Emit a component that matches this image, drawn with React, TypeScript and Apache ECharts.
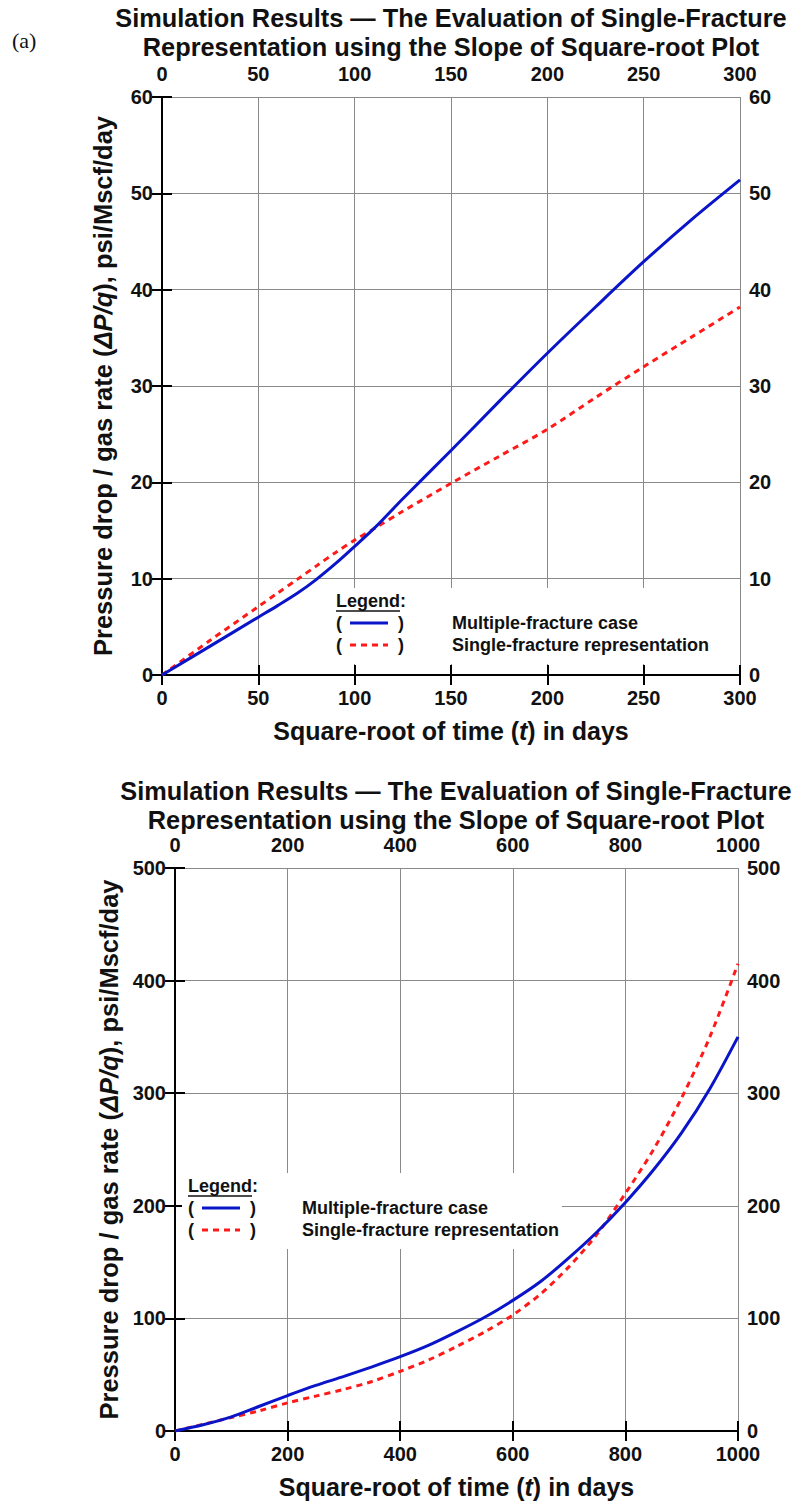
import React, { useEffect, useRef } from "react";
import * as echarts from "echarts";

// ---------- Data ----------
const topX = [0, 25, 50, 60, 70, 80, 90, 100, 111, 125, 150, 175, 200, 225, 250, 275, 300];
const topMultiple = [0, 3.0, 6.0, 7.2, 8.45, 9.9, 11.55, 13.35, 15.4, 18.3, 23.3, 28.4, 33.4, 38.2, 42.9, 47.3, 51.4];
const topSingle = [0, 3.6, 7.1, 8.5, 9.9, 11.3, 12.7, 14.0, 15.3, 17.0, 19.9, 22.7, 25.5, 28.8, 32.0, 35.1, 38.2];

const botX = [0, 50, 100, 150, 200, 250, 300, 350, 400, 450, 500, 550, 600, 650, 700, 750, 800, 850, 900, 950, 1000];
const botMultiple = [0, 5.5, 12.5, 22, 31.5, 40.5, 48.5, 57, 66, 76, 88, 101, 116, 133, 154, 177, 203, 232, 265, 304, 350];
const botSingle = [0, 6, 12, 18, 25, 31, 37, 44, 53, 63, 75, 88, 103, 122, 146, 175, 211, 250, 296, 350, 415];

const titleLines = [
  "Simulation Results \u2014 The Evaluation of Single-Fracture",
  "Representation using the Slope of Square-root Plot",
];
const legendTitle = "Legend";
const legendNames = ["Multiple-fracture case", "Single-fracture representation"];

const SANS = "'Liberation Sans', Arial, sans-serif";
const BLUE = "#0a14c8";
const RED = "#ff1a1a";
const INK = "#111";

function pairs(xs: number[], ys: number[]) {
  return xs.map((x, i) => [x, ys[i]]);
}

type Box = { left: number; top: number; width: number; height: number };

function axesFor(gi: number, xMax: number, xInt: number, yMax: number, yInt: number, yGap: number, xGap: number) {
  const lineStyle = { color: "#000", width: 2 };
  const tick = { show: true, inside: true, length: 10, lineStyle: { color: "#000", width: 2 } };
  const split = { show: true, lineStyle: { color: "#8a8a8a", width: 1 } };
  const fmt = (v: number) => String(v);
  const labelX = { fontFamily: SANS, fontWeight: "bold" as const, fontSize: 20, color: INK, margin: 13, formatter: fmt };
  const labelY = { fontFamily: SANS, fontWeight: "bold" as const, fontSize: 20, color: INK, margin: 9, formatter: fmt };
  const xAxes = [
    {
      type: "value", gridIndex: gi, position: "bottom", min: 0, max: xMax, interval: xInt,
      axisLine: { show: true, lineStyle }, axisTick: tick, splitLine: split, axisLabel: labelX,
      name: "{a|Square-root of time (}{i|t}{a|) in days}",
      nameLocation: "middle", nameGap: xGap,
      nameTextStyle: {
        rich: {
          a: { fontFamily: SANS, fontWeight: "bold", fontSize: 25, color: INK },
          i: { fontFamily: SANS, fontWeight: "bold", fontStyle: "italic", fontSize: 25, color: INK },
        },
      },
    },
    {
      type: "value", gridIndex: gi, position: "top", min: 0, max: xMax, interval: xInt,
      axisLine: { show: true, lineStyle }, axisTick: tick, splitLine: { show: false }, axisLabel: labelX,
    },
  ];
  const yAxes = [
    {
      type: "value", gridIndex: gi, position: "left", min: 0, max: yMax, interval: yInt,
      axisLine: { show: true, lineStyle }, axisTick: tick, splitLine: split, axisLabel: labelY,
      name: "{a|Pressure drop / gas rate (}{i|\u0394P/q}{a|), psi/Mscf/day}",
      nameLocation: "middle", nameGap: yGap,
      nameTextStyle: {
        rich: {
          a: { fontFamily: SANS, fontWeight: "bold", fontSize: 25.5, color: INK },
          i: { fontFamily: SANS, fontWeight: "bold", fontStyle: "italic", fontSize: 25.5, color: INK },
        },
      },
    },
    {
      type: "value", gridIndex: gi, position: "right", min: 0, max: yMax, interval: yInt,
      axisLine: { show: true, lineStyle }, axisTick: tick, splitLine: { show: false }, axisLabel: labelY,
    },
  ];
  return { xAxes, yAxes };
}

function measure(text: string, font: string) {
  const c = document.createElement("canvas").getContext("2d");
  if (!c) return text.length * 14;
  c.font = font;
  return c.measureText(text).width;
}

function titleGraphics(cx: number, y1: number, y2: number, targetWidth: number) {
  const font = `bold 26px ${SANS}`;
  const w = measure(titleLines[0], font);
  const sx = Math.min(1, targetWidth / w);
  return titleLines.map((t, i) => ({
    type: "text",
    x: cx,
    y: i === 0 ? y1 : y2,
    scaleX: sx,
    style: { text: t, fill: INK, font, textAlign: "center", textVerticalAlign: "middle" },
  }));
}

function legendGraphics(x0: number, yTitle: number, rowGap: number, textX: number, boxW: number) {
  const g: any[] = [];
  const font = `bold 18px ${SANS}`;
  g.push({
    type: "rect", z: 1,
    shape: { x: x0 - 6, y: yTitle - 13, width: boxW, height: rowGap * 2 + 26 + 6 },
    style: { fill: "#fff" },
  });
  g.push({
    type: "text", z: 3, x: x0, y: yTitle,
    style: { text: legendTitle + ":", fill: INK, font, textVerticalAlign: "middle" },
  });
  const uw = measure(legendTitle, font);
  g.push({
    type: "line", z: 3,
    shape: { x1: x0, y1: yTitle + 10, x2: x0 + uw, y2: yTitle + 10 },
    style: { stroke: INK, lineWidth: 1.5 },
  });
  const colors = [BLUE, RED];
  for (let i = 0; i < 2; i++) {
    const y = yTitle + rowGap * (i + 1);
    g.push({ type: "text", z: 3, x: x0, y, style: { text: "(", fill: INK, font, textVerticalAlign: "middle" } });
    g.push({ type: "text", z: 3, x: x0 + 62, y, style: { text: ")", fill: INK, font, textVerticalAlign: "middle" } });
    g.push({
      type: "line", z: 3,
      shape: { x1: x0 + 14, y1: y, x2: x0 + 52, y2: y },
      style: { stroke: colors[i], lineWidth: 3, lineDash: i === 1 ? [6, 5] : null },
    });
    g.push({
      type: "text", z: 3, x: textX, y,
      style: { text: legendNames[i], fill: INK, font, textVerticalAlign: "middle" },
    });
  }
  return g;
}

export default function App() {
  const ref = useRef<HTMLDivElement>(null);
  useEffect(() => {
    document.body.style.margin = "0";
    const chart = echarts.init(ref.current!, null, { renderer: "svg" });
    const box1: Box = { left: 162, top: 97, width: 578, height: 578 };
    const box2: Box = { left: 175, top: 868, width: 563, height: 563 };
    const a1 = axesFor(0, 300, 50, 60, 10, 46, 43);
    const a2 = axesFor(1, 1000, 200, 500, 100, 49, 43);
    const lineSeries = (xi: number, yi: number, data: number[][], color: string, dashed: boolean, name: string) => ({
      type: "line", name, xAxisIndex: xi, yAxisIndex: yi, data, smooth: 0.3, showSymbol: false, z: 4,
      lineStyle: { color, width: 3, type: dashed ? [6, 5] : "solid" },
    });
    chart.setOption({
      animation: false,
      backgroundColor: "#fff",
      grid: [
        { ...box1, containLabel: false, outerBoundsMode: "none" },
        { ...box2, containLabel: false, outerBoundsMode: "none" },
      ],
      xAxis: [...a1.xAxes, ...a2.xAxes],
      yAxis: [...a1.yAxes, ...a2.yAxes],
      series: [
        lineSeries(0, 0, pairs(topX, topSingle), RED, true, legendNames[1]),
        lineSeries(0, 0, pairs(topX, topMultiple), BLUE, false, legendNames[0]),
        lineSeries(2, 2, pairs(botX, botSingle), RED, true, legendNames[1]),
        lineSeries(2, 2, pairs(botX, botMultiple), BLUE, false, legendNames[0]),
      ],
      graphic: [
        {
          type: "text", x: 12, y: 40,
          style: { text: "(a)", fill: INK, font: "22px 'Liberation Serif', serif", textVerticalAlign: "middle" },
        },
        ...titleGraphics(451, 18, 47, 672),
        ...titleGraphics(456, 791, 820, 672),
        ...legendGraphics(336, 601, 22, 452, 400),
        ...legendGraphics(188, 1186, 22, 302, 380),
      ],
    });
    return () => chart.dispose();
  }, []);
  return <div ref={ref} style={{ width: 796, height: 1504 }} />;
}
